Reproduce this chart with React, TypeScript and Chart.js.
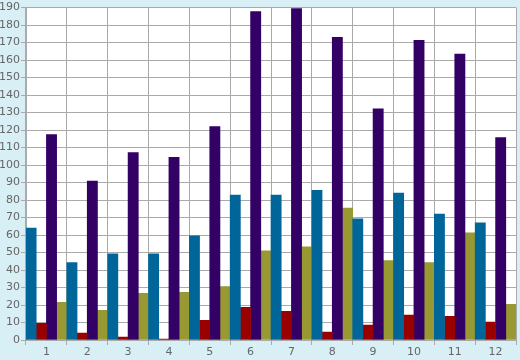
import React, { useEffect, useRef } from "react";
import { Chart, registerables } from "chart.js";

Chart.register(...registerables);

const categories = ["1", "2", "3", "4", "5", "6", "7", "8", "9", "10", "11", "12"];
const tealValues = [64, 44.2, 49.3, 49.3, 59.6, 82.8, 82.8, 85.6, 69.2, 84, 72, 67];
const redValues = [9.6, 4, 1.7, 0.5, 11.3, 18.7, 16.4, 4.5, 8.5, 14.2, 13.6, 10.2];
const purpleValues = [117.4, 90.8, 107.2, 104.4, 122, 187.7, 189.5, 173, 132.2, 171.3, 163.4, 115.7];
const oliveValues = [21.5, 17, 26.7, 27.2, 30.6, 51, 53.3, 75.4, 45.4, 44.2, 61.3, 20.4];
const yMax = 190;
const yStep = 10;

const plotBg = {
  id: "plotBg",
  beforeDraw(chart: any) {
    const { ctx, chartArea } = chart;
    ctx.save();
    ctx.fillStyle = "#ffffff";
    ctx.fillRect(chartArea.left, chartArea.top, chartArea.right - chartArea.left, chartArea.bottom - chartArea.top);
    ctx.restore();
  },
};

export default function App() {
  const ref = useRef<HTMLCanvasElement>(null);
  useEffect(() => {
    if (!ref.current) return;
    const chart = new Chart(ref.current, {
      type: "bar",
      data: {
        labels: categories,
        datasets: [
          { label: "A", data: tealValues, backgroundColor: "#006699" },
          { label: "B", data: redValues, backgroundColor: "#990000" },
          { label: "C", data: purpleValues, backgroundColor: "#330066" },
          { label: "D", data: oliveValues, backgroundColor: "#999933" },
        ],
      },
      plugins: [plotBg],
      options: {
        animation: false,
        responsive: false,
        maintainAspectRatio: false,
        datasets: { bar: { barPercentage: 1, categoryPercentage: 1, borderWidth: 0 } },
        layout: { padding: { top: 5, right: 4, left: 0, bottom: 0 } },
        plugins: { legend: { display: false }, tooltip: { enabled: false } },
        scales: {
          x: {
            grid: { color: "#aaaaaa", offset: true, tickLength: 5, lineWidth: 1 },
            border: { color: "#aaaaaa" },
            ticks: { color: "#666666", font: { family: "DejaVu Sans", size: 11 }, padding: 1 },
            afterFit: (axis: any) => { axis.height = 20; },
          },
          y: {
            min: 0,
            max: yMax,
            grid: { color: "#aaaaaa", tickLength: 5, lineWidth: 1 },
            border: { color: "#aaaaaa" },
            ticks: { stepSize: yStep, color: "#666666", font: { family: "DejaVu Sans", size: 11 }, padding: 1 },
            afterFit: (axis: any) => { axis.width = 26; },
          },
        },
      },
    });
    return () => chart.destroy();
  }, []);
  return (
    <div style={{ position: "absolute", left: 0, top: 0, width: 520, height: 360, background: "#d9eff6" }}>
      <canvas ref={ref} width={520} height={360} style={{ display: "block" }} />
    </div>
  );
}
